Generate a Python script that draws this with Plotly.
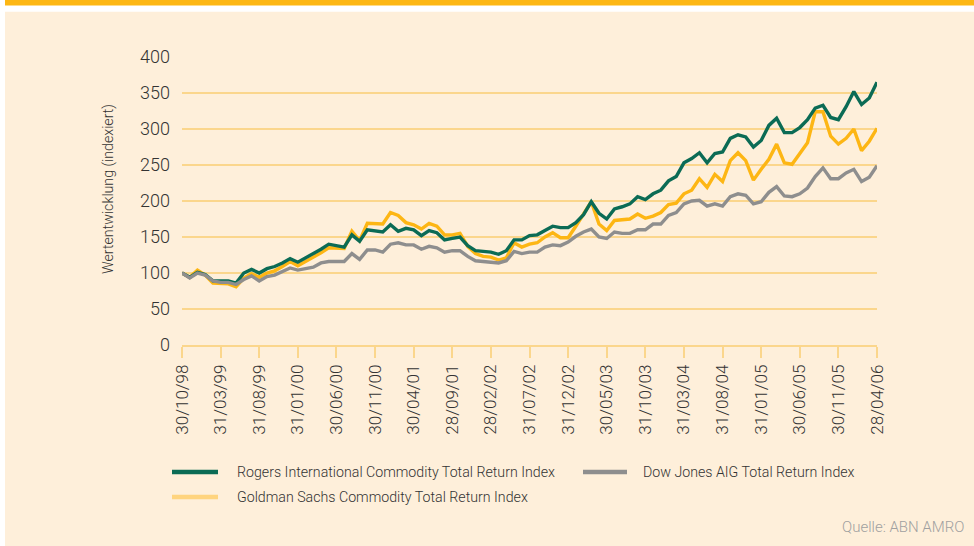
import plotly.graph_objects as go

# ---------------- data ----------------
tick_labels = ["30/10/98", "31/03/99", "31/08/99", "31/01/00", "30/06/00", "30/11/00",
               "30/04/01", "28/09/01", "28/02/02", "31/07/02", "31/12/02", "30/05/03",
               "31/10/03", "31/03/04", "31/08/04", "31/01/05", "30/06/05", "30/11/05",
               "28/04/06"]

rogers = [100, 94, 101, 98, 89, 89, 89, 86, 100, 105,
          100, 106, 109, 114, 120, 115, 121, 126, 133, 140,
          138, 136, 153, 144, 160, 158, 157, 167, 158, 162,
          160, 152, 159, 156, 146, 148, 150, 138, 131, 130,
          129, 126, 131, 146, 146, 152, 153, 159, 165, 163,
          163, 170, 181, 199, 183, 175, 189, 192, 196, 206,
          202, 210, 215, 228, 234, 253, 259, 267, 253, 266,
          268, 287, 292, 289, 275, 284, 305, 315, 295, 295,
          302, 313, 329, 333, 316, 313, 331, 352, 334, 343, 365]

goldman = [100, 94, 104, 97, 86, 85, 85, 81, 93, 99,
           94, 100, 103, 109, 116, 110, 116, 121, 128, 135,
           134, 134, 158, 145, 169, 168, 168, 184, 180, 170,
           167, 161, 169, 165, 153, 153, 155, 137, 127, 123,
           122, 118, 121, 142, 136, 140, 142, 150, 156, 149,
           149, 165, 183, 199, 168, 159, 173, 174, 175, 182,
           176, 179, 184, 195, 197, 210, 215, 231, 219, 237,
           227, 256, 267, 256, 229, 244, 258, 279, 253, 251,
           267, 281, 324, 324, 290, 279, 287, 300, 270, 283, 301]

dowjones = [100, 93, 100, 97, 89, 87, 87, 84, 91, 96,
            89, 95, 97, 102, 107, 104, 106, 108, 114, 116,
            116, 116, 127, 119, 132, 132, 129, 140, 142, 139,
            139, 133, 137, 135, 129, 131, 131, 123, 117, 116,
            115, 114, 117, 130, 127, 129, 129, 136, 139, 138,
            143, 151, 157, 161, 150, 148, 157, 155, 155, 160,
            160, 168, 168, 180, 184, 196, 200, 201, 193, 196,
            193, 206, 210, 208, 196, 199, 212, 220, 207, 206,
            210, 218, 234, 246, 231, 231, 239, 244, 227, 233, 249]

series_names = ["Rogers International Commodity Total Return Index",
                "Goldman Sachs Commodity Total Return Index",
                "Dow Jones AIG Total Return Index"]
y_ticks = [0, 50, 100, 150, 200, 250, 300, 350, 400]
y_title = "Wertentwicklung (indexiert)"
source_text = "Quelle: ABN AMRO"

# ---------------- styling ----------------
W, H = 974, 546
L, R, T, B = 182, 97, 57, 201
PW, PH = W - L - R, H - T - B

GREEN = "#0B6B55"
YELLOW = "#FDB614"
GRAY = "#8E8E8E"
YELLOW_LEG = "#FFD47E"
GRID = "#FBD68C"
CREAM = "#FEEFDA"
BAND = "#FDB714"
TXT = "#333333"
FONT = "Roboto, Liberation Sans, sans-serif"


def px(xp):
    return (xp - L) / PW


def py(yp):
    return (T + PH - yp) / PH


months = list(range(len(rogers)))
tick_pos = months[::5]

fig = go.Figure()
for vals, col in [(goldman, YELLOW), (rogers, GREEN), (dowjones, GRAY)]:
    fig.add_trace(go.Scatter(x=months, y=vals, mode="lines",
                             line=dict(color=col, width=3.4),
                             showlegend=False, hoverinfo="skip"))

shapes = [
    dict(type="rect", xref="paper", yref="paper", x0=px(5), x1=px(W + 2),
         y0=py(11.7), y1=py(H + 2), fillcolor=CREAM, line=dict(width=0), layer="below"),
    dict(type="rect", xref="paper", yref="paper", x0=px(5), x1=px(W + 2),
         y0=py(-2), y1=py(5.6), fillcolor=BAND, line=dict(width=0), layer="below"),
]

leg = [
    (series_names[0], GREEN, 172, 218, 235, 472),
    (series_names[2], GRAY, 583, 627, 641, 472),
    (series_names[1], YELLOW_LEG, 172, 218, 235, 497),
]
annotations = []
for name, col, sx0, sx1, tx, ty in leg:
    shapes.append(dict(type="line", xref="paper", yref="paper", x0=px(sx0), x1=px(sx1),
                       y0=py(ty), y1=py(ty), line=dict(color=col, width=4.5)))
    annotations.append(dict(text=name, xref="paper", yref="paper", x=px(tx), y=py(ty),
                            xanchor="left", yanchor="middle", showarrow=False,
                            font=dict(family=FONT, size=14.2, color=TXT, weight=300)))

annotations.append(dict(text=y_title, xref="paper", yref="paper", x=px(108), y=py(189),
                        xanchor="center", yanchor="middle", textangle=-90, showarrow=False,
                        font=dict(family=FONT, size=14.2, color=TXT, weight=300)))
annotations.append(dict(text=source_text, xref="paper", yref="paper", x=px(966), y=py(527),
                        xanchor="right", yanchor="middle", showarrow=False,
                        font=dict(family=FONT, size=15, color="#A0A0A0", weight=300)))

fig.update_layout(
    width=W, height=H,
    margin=dict(l=L, r=R, t=T, b=B, pad=0),
    paper_bgcolor="#FFFFFF",
    plot_bgcolor="rgba(0,0,0,0)",
    shapes=shapes,
    annotations=annotations,
    showlegend=False,
    xaxis=dict(range=[0, len(rogers) - 1], tickmode="array", tickvals=tick_pos,
               ticktext=tick_labels, tickangle=-90, ticks="outside", ticklen=11,
               tickwidth=1.5, tickcolor=GRID, showgrid=False, zeroline=False,
               showline=True, linecolor=GRID, linewidth=1.5,
               tickfont=dict(family=FONT, size=17, color=TXT, weight=300), fixedrange=True),
    yaxis=dict(range=[0, 400], tickmode="array", tickvals=y_ticks, showgrid=True,
               gridcolor=GRID, gridwidth=1.5, zeroline=False, showline=False,
               ticks="", ticklabelstandoff=11,
               tickfont=dict(family=FONT, size=18, color=TXT, weight=300), fixedrange=True),
)

fig.write_html("out.html")
